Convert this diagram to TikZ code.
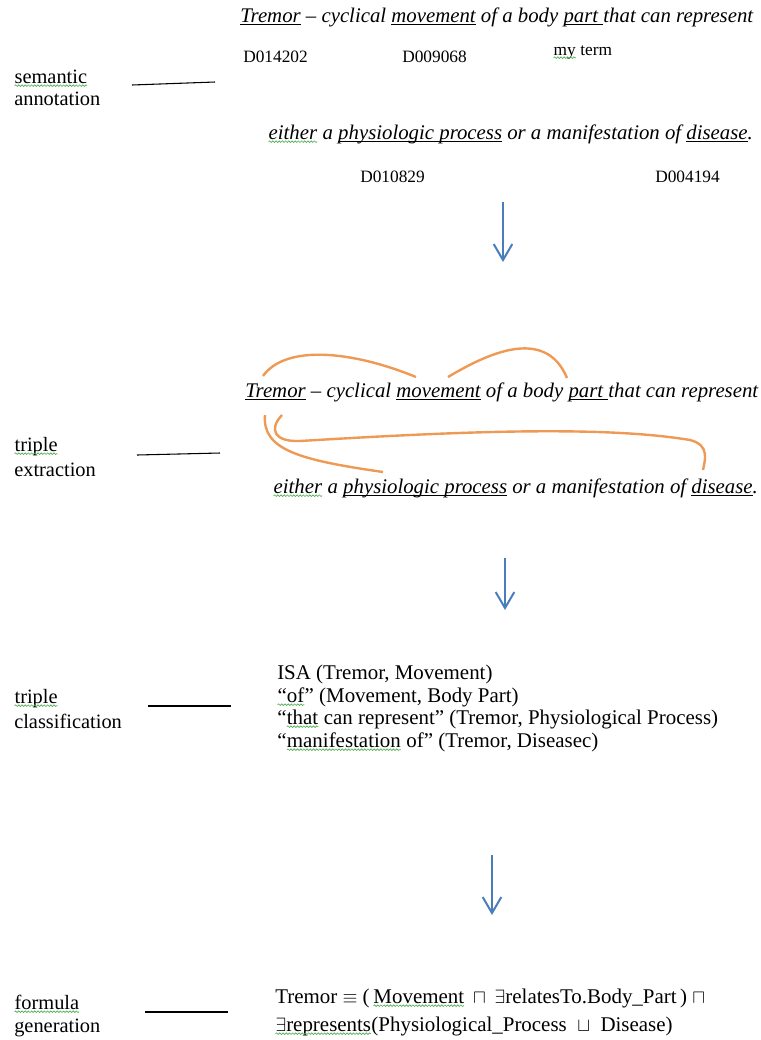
\documentclass[tikz,border=0pt]{standalone}
\usepackage{fontspec}
\setmainfont{Liberation Serif}
\usetikzlibrary{arrows.meta,decorations.pathmorphing}
\definecolor{flowblue}{HTML}{4A7EBB}
\definecolor{linkorange}{HTML}{EE9A55}
\definecolor{spellgreen}{HTML}{4CAF50}
\newcommand\ulw[1]{\underline{\smash{#1}}}
\newcommand\spl[1]{\tikz[baseline=(w.base)]{\node[inner sep=0pt,outer sep=0pt] (w) {#1};
  \draw[spellgreen,line width=0.5pt,decorate,decoration={snake,amplitude=0.6pt,segment length=2.4pt}]
    ([yshift=-2pt]w.base west) -- ([yshift=-2pt]w.base east);}}
\begin{document}
\begin{tikzpicture}[x=0.75pt,y=-0.75pt,
    stage/.style={anchor=base west,inner sep=0pt,font=\fontsize{15.3}{18}\selectfont},
    sent/.style={anchor=base west,inner sep=0pt,font=\fontsize{15.6}{18}\selectfont\itshape},
    meshid/.style={anchor=base west,inner sep=0pt,font=\fontsize{13}{15}\selectfont},
    body/.style={anchor=base west,inner sep=0pt,font=\fontsize{15.7}{18}\selectfont},
    tick/.style={line width=0.8pt},
    flow/.style={flowblue,line width=1.5pt,-{Straight Barb[length=12pt,width=14pt,line width=1.5pt]}},
    link/.style={linkorange,line width=1.8pt}]
  \useasboundingbox (0,0) rectangle (761,1040);
  % semantic annotation
  \node[stage] (sem1) at (14,83) {\spl{semantic}};
  \node[stage] (sem2) at (14,105) {annotation};
  \coordinate (semA) at (132,85);
  \coordinate (semB) at (215,82);
  \draw[tick] (semA) -- (semB);
  \node[sent] (s1a) at (240,22) {\ulw{Tremor} -- cyclical \ulw{movement} of a body \ulw{part }that can represent};
  \node[meshid] (m1) at (243,62) {D014202};
  \node[meshid] (m2) at (402,62) {D009068};
  \node[meshid] (m3) at (553,55) {\spl{my} term};
  \node[sent] (s1b) at (268,139) {\spl{either} a \ulw{physiologic process} or a manifestation of \ulw{disease}.};
  \node[meshid] (m4) at (360,182) {D010829};
  \node[meshid] (m5) at (655,182) {D004194};
  \coordinate (f1a) at (503,202);
  \coordinate (f1b) at (503,262);
  \draw[flow] (f1a) -- (f1b);
  % triple extraction
  \node[stage] (ext1) at (14,451) {\spl{triple}};
  \node[stage] (ext2) at (14,476) {extraction};
  \coordinate (extA) at (137,455);
  \coordinate (extB) at (220,453);
  \draw[tick] (extA) -- (extB);
  \node[sent] (s2a) at (245,397) {\ulw{Tremor} -- cyclical \ulw{movement} of a body \ulw{part }that can represent};
  \node[sent] (s2b) at (273,493) {\spl{either} a \ulw{physiologic process} or a manifestation of \ulw{disease}.};
  \coordinate (trA) at (263,376);
  \coordinate (mvA) at (416,377);
  \coordinate (mvB) at (448,377);
  \coordinate (ptB) at (567,378);
  \coordinate (trB) at (265,415);
  \coordinate (phB) at (383,472);
  \coordinate (trC) at (282,415);
  \coordinate (dsC) at (703,470);
  \draw[link] (trA) .. controls (285,345) and (350,350) .. (mvA);
  \draw[link] (mvB) .. controls (485,355) and (545,325) .. (ptB);
  \draw[link] (trB) .. controls (262,450) and (300,460) .. (phB);
  \draw[link] (trC) .. controls (268,430) and (275,442) .. (300,441)
    .. controls (450,432) and (600,425) .. (690,440)
    .. controls (710,445) and (705,460) .. (dsC);
  \coordinate (f2a) at (505,558);
  \coordinate (f2b) at (505,610);
  \draw[flow] (f2a) -- (f2b);
  % triple classification
  \node[stage] (cls1) at (14,703) {\spl{triple}};
  \node[stage] (cls2) at (14,728) {classification};
  \coordinate (clsA) at (148,706);
  \coordinate (clsB) at (231,706);
  \draw[tick] (clsA) -- (clsB);
  \node[body] (t1) at (277,679) {ISA (Tremor, Movement)};
  \node[body] (t2) at (277,702) {\spl{“of}” (Movement, Body Part)};
  \node[body] (t3) at (277,724) {“\spl{that} can represent” (Tremor, Physiological Process)};
  \node[body] (t4) at (277,747) {“\spl{manifestation} of” (Tremor, Diseasec)};
  \coordinate (f3a) at (492,855);
  \coordinate (f3b) at (492,915);
  \draw[flow] (f3a) -- (f3b);
  % formula generation
  \node[stage] (frm1) at (14,1009) {\spl{formula}};
  \node[stage] (frm2) at (14,1032) {generation};
  \coordinate (frmA) at (145,1012);
  \coordinate (frmB) at (228,1012);
  \draw[tick] (frmA) -- (frmB);
  \node[body] (g1) at (275,1003) {Tremor $\equiv$ (\,\spl{Movement}\ \,$\sqcap$\ \,$\exists$relatesTo.Body\_Part\,) $\sqcap$};
  \node[body] (g2) at (275,1031) {\spl{$\exists$represents}(Physiological\_Process \ $\sqcup$ \ Disease)};
\end{tikzpicture}
\end{document}
